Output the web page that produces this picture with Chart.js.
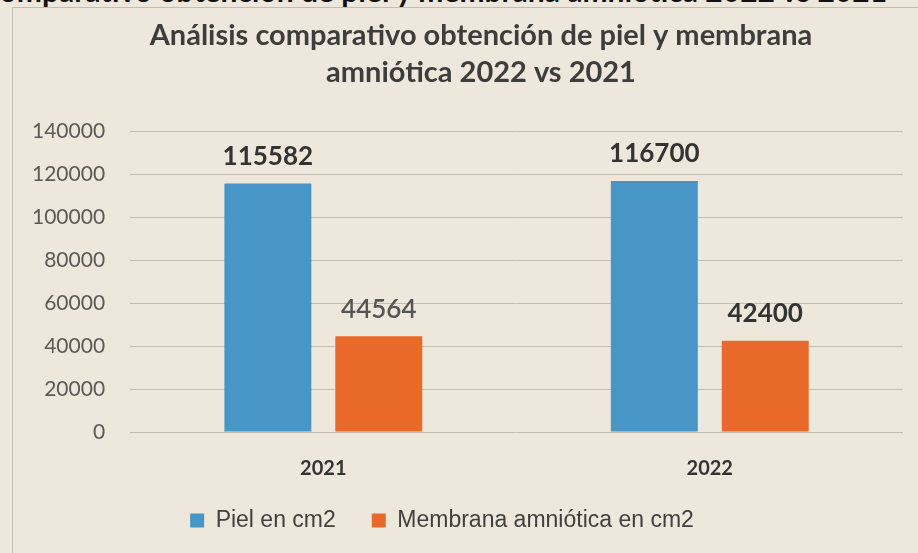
<!DOCTYPE html>
<html>
<head>
<meta charset="utf-8">
<script src="https://cdn.jsdelivr.net/npm/chart.js@4"></script>
<style>
  html, body { margin: 0; padding: 0; }
  body { width: 918px; height: 553px; background: #eee8dc; position: relative; overflow: hidden; }
  #encabezado {
    position: absolute; left: -20px; top: -25px; width: 980px;
    font: bold 30px Lato, sans-serif; color: #111; white-space: nowrap; line-height: 30px;
  }
  #marco {
    position: absolute; left: 12px; top: 7px; right: -2px; bottom: -2px;
    border-left: 1px solid #c4beb2; border-top: 1px solid #c4beb2;
  }
  canvas { position: absolute; left: 0; top: 0; }
</style>
</head>
<body>
<div id="encabezado">Comparativo obtención de piel y membrana amniótica 2022 vs 2021</div>
<div id="marco"></div>
<canvas id="grafico" width="918" height="553"></canvas>
<script>
// Datos
const categorias = ["2021", "2022"];
const piel = [115582, 116700];
const membrana = [44564, 42400];
const nombresSeries = ["Piel en cm2", "Membrana amniótica en cm2"];
const tituloLineas = ["Análisis comparativo obtención de piel y membrana", "amniótica 2022 vs 2021"];
const ejeY = { min: 0, max: 140000, paso: 20000 };

const AZUL = "#4896c8";
const NARANJA = "#e8692a";

// Etiquetas de valor encima de cada barra
const etiquetasValores = {
    id: "etiquetasValores",
    afterDatasetsDraw(chart) {
        const ctx = chart.ctx;
        chart.data.datasets.forEach((ds, i) => {
            chart.getDatasetMeta(i).data.forEach((barra, j) => {
                const suave = i === 1 && j === 0; // 44564 sale más clara en el original
                ctx.save();
                ctx.font = (suave ? "600 " : "bold ") + "26px Lato, sans-serif";
                ctx.fillStyle = suave ? "#555" : "#333";
                ctx.textAlign = "center";
                ctx.textBaseline = "middle";
                ctx.fillText(ds.data[j], barra.x, barra.y - 27);
                ctx.restore();
            });
        });
    }
};

// Ajuste fino de la posición del título y la leyenda
const desplazar = {
    id: "desplazar",
    afterLayout(chart) {
        const mover = (caja, dx, dy) => {
            caja.left += dx; caja.right += dx;
            caja.top += dy; caja.bottom += dy;
        };
        mover(chart.titleBlock, 26, 0);
        mover(chart.legend, -13, -33);
    }
};

new Chart(document.getElementById("grafico"), {
    type: "bar",
    data: {
        labels: categorias,
        datasets: [
            { label: nombresSeries[0], data: piel, backgroundColor: AZUL },
            { label: nombresSeries[1], data: membrana, backgroundColor: NARANJA }
        ]
    },
    options: {
        responsive: false,
        animation: false,
        categoryPercentage: 0.574,
        barPercentage: 0.784,
        layout: { padding: { left: 7, right: 15, top: 0, bottom: -22 } },
        scales: {
            x: {
                grid: { display: false, drawTicks: false },
                border: { display: false },
                ticks: {
                    padding: 25,
                    color: "#333",
                    font: { family: "Lato", size: 20, weight: "bold" }
                }
            },
            y: {
                min: ejeY.min,
                max: ejeY.max,
                grid: { color: "#c2bdb2", drawTicks: false },
                border: { display: false },
                ticks: {
                    stepSize: ejeY.paso,
                    padding: 25,
                    color: "#5a5a5a",
                    font: { family: "Lato", size: 21 },
                    callback: (valor) => String(valor)
                }
            }
        },
        plugins: {
            title: {
                display: true,
                text: tituloLineas,
                color: "#3d3d3d",
                font: { family: "Lato", size: 29, weight: "bold", lineHeight: 1.276 },
                padding: { top: 17, bottom: 40 }
            },
            legend: {
                position: "bottom",
                labels: {
                    boxWidth: 14,
                    boxHeight: 14,
                    padding: 36,
                    color: "#404040",
                    font: { family: "Liberation Sans", size: 23 }
                }
            },
            tooltip: { enabled: false }
        }
    },
    plugins: [etiquetasValores, desplazar]
});
</script>
</body>
</html>
